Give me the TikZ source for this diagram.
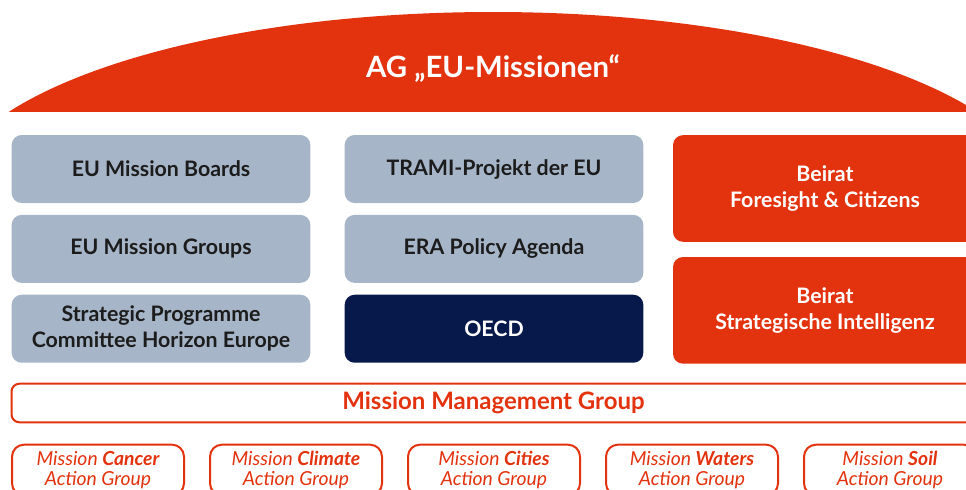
\documentclass[tikz,border=0pt]{standalone}
\usepackage{fontspec}
\setmainfont{Lato}
\usetikzlibrary{positioning}
\definecolor{agred}{HTML}{E3320E}
\definecolor{euslate}{HTML}{A6B6C8}
\definecolor{oecdnavy}{HTML}{07194A}
\definecolor{boxtext}{HTML}{1C1C1C}

\begin{document}
\begin{tikzpicture}[
  x=0.75pt, y=-0.75pt,
  font=\bfseries\fontsize{16}{19.5}\selectfont,
  node distance=8.5pt and 8.5pt,
  eubox/.style={fill=euslate, text=boxtext, rounded corners=7.5pt, align=center,
                minimum width=224pt, minimum height=51pt, inner sep=0pt},
  oecdbox/.style={eubox, fill=oecdnavy, text=white},
  beiratbox/.style={fill=agred, text=white, rounded corners=7.5pt, align=center,
                    minimum width=228pt, minimum height=80pt, inner sep=0pt},
  mmgbox/.style={draw=agred, line width=1.5pt, text=agred, rounded corners=6pt,
                 minimum width=723pt, minimum height=29pt, inner sep=0pt,
                 font=\bfseries\fontsize{18}{21}\selectfont},
  actbox/.style={draw=agred, line width=1.5pt, text=agred, rounded corners=9pt, align=center,
                 minimum width=129pt, minimum height=38pt, inner sep=0pt,
                 font=\mdseries\itshape\fontsize{14.5}{14.5}\selectfont}
]
\useasboundingbox (0,0) rectangle (966,489);
% dome
\begin{scope}
  \clip (0,0) rectangle (990,111);
  \fill[agred] (493,200) ellipse [x radius=548, y radius=188];
\end{scope}
\node[text=white, font=\bfseries\fontsize{22}{26}\selectfont] (ag) at (493,68) {AG „EU-Missionen“};
% EU column
\node[eubox] (boards) at (161,169) {EU Mission Boards};
\node[eubox, below=of boards] (groups) {EU Mission Groups};
\node[eubox, below=of groups] (spc) {Strategic Programme\\Committee Horizon Europe};
% middle column
\node[eubox] (trami) at (494,169) {TRAMI-Projekt der EU};
\node[eubox, below=of trami] (era) {ERA Policy Agenda};
\node[oecdbox, below=of era] (oecd) {OECD};
% Beirat
\node[beiratbox] (foresight) at (825,188.5) {Beirat\\Foresight \& Citizens};
\node[beiratbox, below=11pt of foresight] (intel) {Beirat\\Strategische Intelligenz};
% management
\node[mmgbox] (mmg) at (493.5,403) {Mission Management Group};
% action groups
\foreach \i/\m in {0/Cancer, 1/Climate, 2/Cities, 3/Waters, 4/Soil}
  \node[actbox] (ag\m) at (98+\i*198,470) {Mission \textbf{\m}\\Action Group};
\end{tikzpicture}
\end{document}
